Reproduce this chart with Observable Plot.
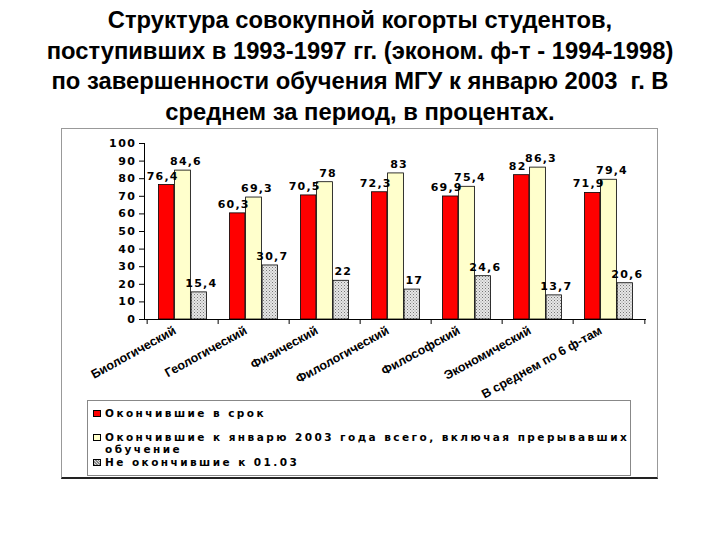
<!DOCTYPE html>
<html><head><meta charset="utf-8">
<script src="https://cdn.jsdelivr.net/npm/d3@7"></script>
<script src="https://cdn.jsdelivr.net/npm/@observablehq/plot@0.6"></script>
<style>
body{margin:0;background:#fff;}
#wrap{position:relative;width:720px;height:540px;font-family:"Liberation Sans",Arial,sans-serif;overflow:hidden;}
#title{position:absolute;left:0;top:5px;width:720px;text-align:center;font-family:"Liberation Sans",Arial,sans-serif;font-weight:bold;font-size:24.5px;line-height:30.5px;color:#000;transform:scaleX(0.97);transform-origin:center top;}
#box{position:absolute;left:61px;top:128px;width:597px;height:351px;border:1px solid #999;border-bottom:2px solid #222;box-sizing:border-box;}
#chart{position:absolute;left:62px;top:129px;}
#legend{position:absolute;left:87px;top:400px;width:544px;height:76px;border:1px solid #888;box-sizing:border-box;background:#fff;font-family:"DejaVu Sans",sans-serif;font-weight:bold;font-size:10.5px;letter-spacing:2.45px;color:#000;}
.row{position:absolute;left:8px;line-height:12px;}
.sw{position:absolute;left:-3px;top:3px;width:6px;height:5px;border:1px solid #000;}
.txt{position:absolute;left:9px;white-space:nowrap;}
</style></head>
<body><div id="wrap">
<div id="title">Структура совокупной когорты студентов,<br>поступивших в 1993-1997 гг. (эконом. ф-т - 1994-1998)<br>по завершенности обучения МГУ к январю 2003 &nbsp;г. В<br>среднем за период, в процентах.</div>
<div id="box"></div>
<div id="chart"></div>
<div id="legend"></div>
</div>
<script>
const categories = ["Биологический","Геологический","Физический","Филологический","Философский","Экономический","В среднем по 6 ф-там"];
const onTime = [76.4,60.3,70.5,72.3,69.9,82,71.9];
const totalFinished = [84.6,69.3,78,83,75.4,86.3,79.4];
const notFinished = [15.4,30.7,22,17,24.6,13.7,20.6];
const seriesNames = ["Окончившие в срок","Окончившие к январю 2003 года всего, включая прерывавших обучение","Не окончившие к 01.03"];
const seriesFills = ["#ff0000","#ffffcc","url(#dots)"];
const yTicks = [0,10,20,30,40,50,60,70,80,90,100];

const width = 594, height = 282, mL = 82, mR = 10, mT = 14, mB = 92;
const bw = (width - mL - mR) / categories.length;
const edges = [0.16, 0.385, 0.615, 0.84];
const labelShift = [-4, 3, 2];
const seriesValues = [onTime, totalFinished, notFinished];
const fmt = v => String(v).replace(".", ",");
const wideFont = "DejaVu Sans, sans-serif";

const bars = [], labels = [];
seriesValues.forEach((vals, s) => {
  const data = categories.map((c, i) => ({c, v: vals[i]}));
  bars.push(Plot.barY(data, {x: "c", y: "v", fill: seriesFills[s], stroke: "#000", strokeWidth: 0.8,
    insetLeft: bw * edges[s], insetRight: bw * (1 - edges[s + 1])}));
  labels.push(Plot.text(data, {x: "c", y: "v", text: d => fmt(d.v), dx: bw * ((edges[s] + edges[s + 1]) / 2 - 0.5) + labelShift[s], dy: -9,
    fontSize: 11, fontWeight: "bold", fontFamily: wideFont, fill: "#000"}));
});
const marks = [
  ...bars,
  Plot.ruleY([0], {stroke: "#000"}),
  Plot.frame({anchor: "left", stroke: "#000"}),
  Plot.ruleX(categories, {x: d => d, y1: 0, y2: 0, dx: -bw / 2, insetBottom: -5, stroke: "#000"}),
  Plot.ruleX(categories.slice(-1), {x: d => d, y1: 0, y2: 0, dx: bw / 2, insetBottom: -5, stroke: "#000"}),
  Plot.axisY({ticks: yTicks, tickSize: 5, tickPadding: 3, fontSize: 11, fontWeight: "bold", fontFamily: wideFont, tickFormat: d => d}),
  Plot.axisX({tickRotate: -29, tickSize: 0, tickPadding: 9, dx: -8, dy: 1, fontSize: 12.5, fontWeight: "bold"}),
  ...labels
];

const chart = Plot.plot({
  width, height, marginLeft: mL, marginRight: mR, marginTop: mT, marginBottom: mB,
  style: {background: "transparent", fontFamily: "Liberation Sans, Arial, sans-serif", color: "#000"},
  x: {domain: categories, padding: 0, label: null},
  y: {domain: [0, 100], label: null},
  marks
});
const ns = "http://www.w3.org/2000/svg";
const defs = document.createElementNS(ns, "defs");
defs.innerHTML = '<pattern id="dots" width="3" height="3" patternUnits="userSpaceOnUse"><rect width="3" height="3" fill="#e6e6e6"/><rect x="0" y="0" width="1" height="1" fill="#777"/><rect x="1.5" y="1.5" width="1" height="1" fill="#999"/></pattern>';
chart.insertBefore(defs, chart.firstChild);
d3.select(chart).selectAll('g[aria-label="text"] text').style("letter-spacing", "1.2px");
d3.select(chart).selectAll('g[aria-label="y-axis tick label"] text').style("letter-spacing", "1.5px");
document.getElementById("chart").appendChild(chart);

const legend = document.getElementById("legend");
const rowTops = [6, 30, 55];
seriesNames.forEach((name, i) => {
  const row = document.createElement("div");
  row.className = "row";
  row.style.top = rowTops[i] + "px";
  const sw = document.createElement("div");
  sw.className = "sw";
  sw.style.background = i === 2 ? "repeating-linear-gradient(45deg,#888 0 1px,#ddd 1px 2px)" : seriesFills[i];
  const t = document.createElement("div");
  t.className = "txt";
  if (i === 1) {
    t.innerHTML = "Окончившие к январю 2003 года всего, включая прерывавших<br>обучение";
  } else t.textContent = name;
  row.appendChild(sw); row.appendChild(t);
  legend.appendChild(row);
});
</script>
</body></html>
